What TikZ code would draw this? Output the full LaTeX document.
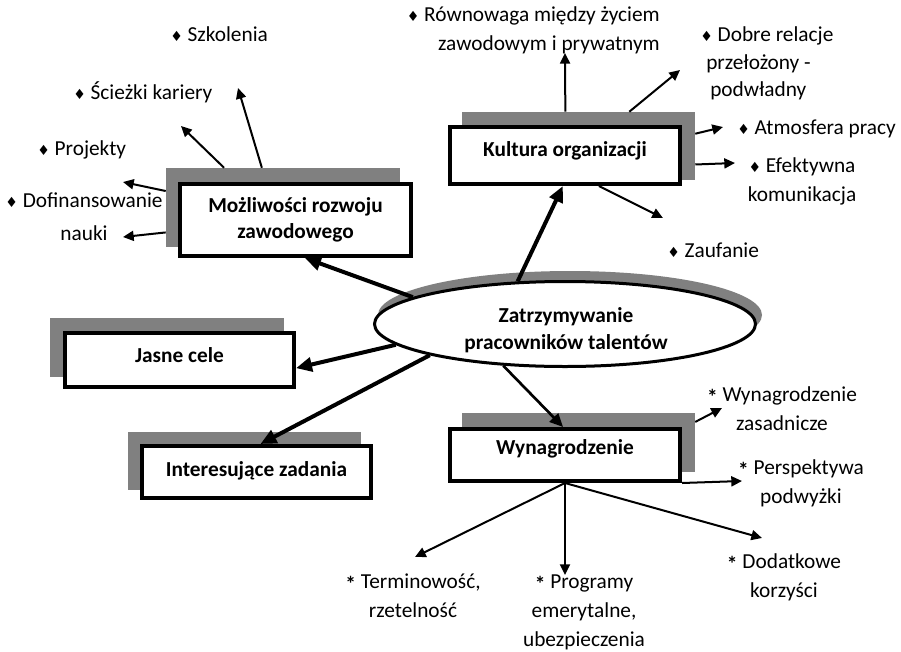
\documentclass[tikz,border=0pt]{standalone}
\usepackage{fontspec}
\setmainfont{Carlito}
\newfontfamily\symfont{DejaVu Sans}
\usetikzlibrary{arrows.meta,shapes.geometric,calc}
\pgfdeclarelayer{shadowlayer}
\pgfdeclarelayer{arrowlayer}
\pgfsetlayers{shadowlayer,arrowlayer,main}
\definecolor{shgray}{RGB}{128,128,128}
\newcommand{\dmd}{{\symfont\fontsize{10.5}{10.5}\selectfont ♦}\ }
\newcommand{\astk}{\raisebox{-2.2pt}{\bfseries *}\ }
\tikzset{
  box/.style={draw, line width=3pt, fill=white, inner sep=0pt, align=center,
    font=\fontsize{16}{19.5}\selectfont\bfseries},
  shbox/.style={fill=shgray, draw=none, inner sep=0pt},
  lbl/.style={inner sep=0pt, font=\fontsize{16}{21.75}\selectfont},
  thickarr/.style={line width=3pt, -{Triangle[length=12pt,width=10.5pt]}},
  thinarr/.style={line width=1.5pt, -{Triangle[length=8pt,width=7.5pt]}}
}
\begin{document}
\begin{tikzpicture}[x=0.75pt,y=-0.75pt]
\useasboundingbox (0,0) rectangle (901,651);

% shadows
\begin{pgfonlayer}{shadowlayer}
\node[shbox, minimum width=175.5pt, minimum height=59.25pt] (mozlS) at (283,207.5) {};
\node[shbox, minimum width=174.75pt, minimum height=51pt] (kultS) at (578.5,146) {};
\node[shbox, minimum width=175.5pt, minimum height=44.25pt] (jasneS) at (167,347.5) {};
\node[shbox, minimum width=174.75pt, minimum height=43.5pt] (interS) at (244.5,461) {};
\node[shbox, minimum width=174.75pt, minimum height=44.25pt] (wynS) at (578.5,442.5) {};
\node[ellipse, fill=shgray, inner sep=0pt, minimum width=288pt, minimum height=66pt] (ellS) at (570,315) {};
\end{pgfonlayer}

% main boxes
\node[box, minimum width=173.25pt, minimum height=54pt] (mozl) at (295.5,220) {Możliwości rozwoju\\zawodowego};
\node[box, minimum width=172.5pt, minimum height=42.75pt, text height=11pt, text depth=9pt] (kult) at (565,155.5) {Kultura organizacji};
\node[box, minimum width=171.75pt, minimum height=40.5pt, text height=11pt, text depth=7pt] (jasne) at (179.5,360) {Jasne cele};
\node[box, minimum width=171.75pt, minimum height=39pt, text height=11pt, text depth=4.5pt] (inter) at (256.5,472) {Interesujące zadania};
\node[box, minimum width=172.5pt, minimum height=39pt, text height=11pt, text depth=11.5pt] (wyn) at (565,455) {Wynagrodzenie};
\node[ellipse, draw, line width=2.25pt, fill=white, inner sep=0pt, minimum width=285.75pt, minimum height=63.75pt] (ell) at (565,324) {};
\node[inner sep=0pt, align=center, font=\fontsize{16}{20.25}\selectfont\bfseries] (elltxt) at (566,330) {Zatrzymywanie\\pracowników talentów};

% labels
\node[lbl, anchor=base west] (szk) at (170,41) {\dmd Szkolenia};
\node[lbl, anchor=base west] (sci) at (73,99) {\dmd Ścieżki kariery};
\node[lbl, anchor=base west] (proj) at (37,155) {\dmd Projekty};
\node[lbl, align=center, font=\fontsize{16}{24.75}\selectfont] (dof) at (84,217) {\dmd Dofinansowanie\\nauki};
\node[lbl, align=right, anchor=east] (rown) at (660,30.5) {\dmd Równowaga między życiem\\zawodowym i prywatnym};
\node[lbl, align=left, anchor=west, font=\fontsize{16}{20.6}\selectfont] (dobre) at (700,63.5) {\dmd Dobre relacje\\\hspace*{4.5pt}przełożony -\\\hspace*{7.5pt}podwładny};
\node[lbl, anchor=base west] (atm) at (737,134) {\dmd Atmosfera pracy};
\node[lbl, align=center] (efek) at (802,181) {\dmd Efektywna\\komunikacja};
\node[lbl, anchor=base west] (zauf) at (667,257) {\dmd Zaufanie};
\node[lbl, align=center] (wzas) at (782,409) {\astk Wynagrodzenie\\zasadnicze};
\node[lbl, align=center] (persp) at (801,483) {\astk Perspektywa\\podwyżki};
\node[lbl, align=center] (dodat) at (784,577) {\astk Dodatkowe\\korzyści};
\node[lbl, align=center] (term) at (413,596) {\astk Terminowość,\\rzetelność};
\node[lbl, align=center] (prog) at (584,612) {\astk Programy\\emerytalne,\\ubezpieczenia};

% arrow tip coordinates
\coordinate (tSzk) at (238,88);
\coordinate (tSci) at (181,126);
\coordinate (tProj) at (123,182);
\coordinate (tDof) at (123,237);
\coordinate (tRown) at (565,53);
\coordinate (tDobre) at (680,70);
\coordinate (tAtm) at (723,127);
\coordinate (tEfek) at (735,163);
\coordinate (tZauf) at (663,218);
\coordinate (tWzas) at (722,408);
\coordinate (tPersp) at (742,481);
\coordinate (tDodat) at (762,538);
\coordinate (tProg) at (565,575);
\coordinate (tTerm) at (415,557);

\begin{pgfonlayer}{arrowlayer}
% thick arrows from ellipse
\draw[thickarr] (ell.170.4) -- (mozl.284);
\draw[thickarr] (ell.138.2) -- (kult.266.2);
\draw[thickarr] (ell.187.1) -- (jasne.356.1);
\draw[thickarr] (ell.193.6) -- (inter.82.9);
\draw[line width=2pt, -{Triangle[length=10pt,width=9pt]}] (ell.214.3) -- (wyn.94.1);
% thin arrows
\draw[thinarr] (mozlS.118) -- (tSzk);
\draw[thinarr] (mozlS.146.6) -- (tSci);
\draw[thinarr] (mozlS.172.5) -- (tProj);
\draw[thinarr] (mozlS.192.3) -- (tDof);
\draw[thinarr] (kultS.111.7) -- (tRown);
\draw[thinarr] (kultS.34.5) -- (tDobre);
\draw[thinarr] (kultS.6.85) -- (tAtm);
\draw[thinarr] (kultS.351.7) -- (tEfek);
\draw[thinarr] (kult.318.1) -- (tZauf);
\draw[thinarr] (wynS.10.9) -- (tWzas);
\draw[thinarr] (wyn.south east) -- (tPersp);
\draw[thinarr] (wyn.south) -- (tDodat);
\draw[thinarr] (wyn.south) -- (tProg);
\draw[thinarr] (wyn.south) -- (tTerm);
\end{pgfonlayer}
\end{tikzpicture}
\end{document}
